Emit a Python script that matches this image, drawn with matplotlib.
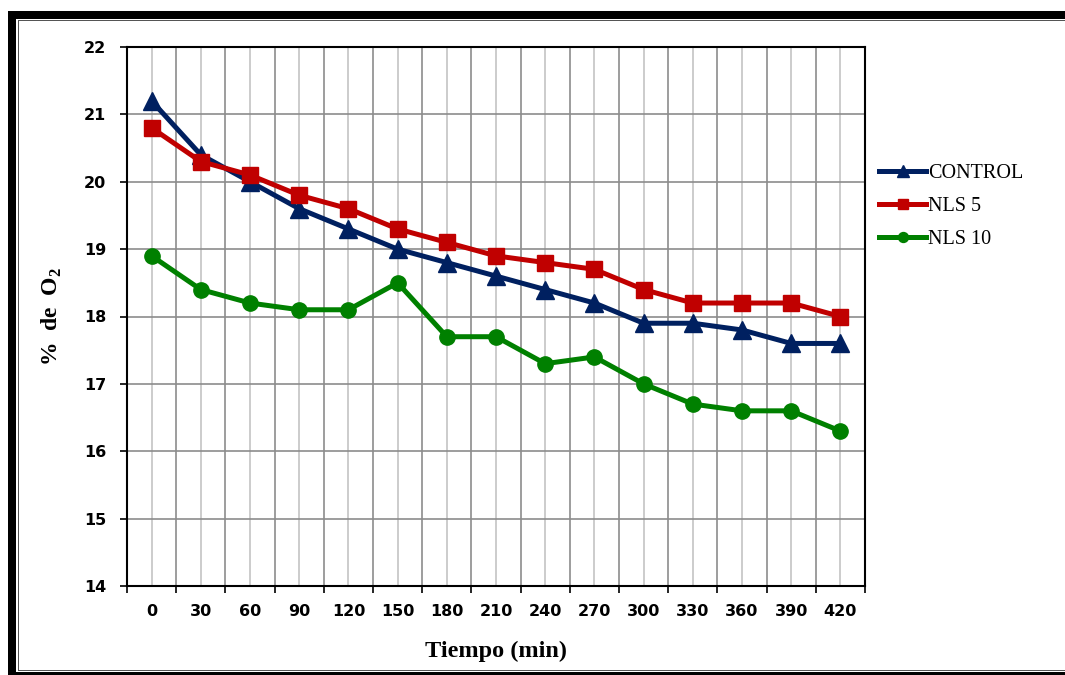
import matplotlib
matplotlib.use('Agg')
import matplotlib.pyplot as plt
import numpy as np
from matplotlib.patches import Rectangle

plt.rcParams['mathtext.fontset'] = 'custom'
plt.rcParams['mathtext.rm'] = 'Liberation Serif:bold'
plt.rcParams['mathtext.bf'] = 'Liberation Serif:bold'

tiempo = ['0', '30', '60', '90', '120', '150', '180', '210', '240', '270',
          '300', '330', '360', '390', '420']
control = [21.2, 20.4, 20.0, 19.6, 19.3, 19.0, 18.8, 18.6, 18.4, 18.2,
           17.9, 17.9, 17.8, 17.6, 17.6]
nls5 = [20.8, 20.3, 20.1, 19.8, 19.6, 19.3, 19.1, 18.9, 18.8, 18.7,
        18.4, 18.2, 18.2, 18.2, 18.0]
nls10 = [18.9, 18.4, 18.2, 18.1, 18.1, 18.5, 17.7, 17.7, 17.3, 17.4,
         17.0, 16.7, 16.6, 16.6, 16.3]
y_ticks = [14, 15, 16, 17, 18, 19, 20, 21, 22]

W, H = 1065, 675
fig = plt.figure(figsize=(W / 100, H / 100), dpi=100)

# marco de la figura (borde grueso arriba/izquierda, lineas finas)
def px(x0, y0, w, h, color):
    fig.add_artist(Rectangle((x0 / W, 1 - (y0 + h) / H), w / W, h / H,
                             transform=fig.transFigure, color=color, lw=0))

px(8, 11, 8, 664, 'black')
px(8, 11, 1057, 8, 'black')
px(18, 20, 1.2, 651, '#555555')
px(18, 20, 1047, 1.2, '#555555')
px(18, 670, 1047, 1.2, '#555555')
px(16, 672, 1049, 2.5, 'black')

ax = fig.add_axes([127 / W, 1 - 586 / H, 738 / W, 539 / H])
x = np.arange(len(tiempo))

ax.set_xlim(-0.5, len(tiempo) - 0.5)
ax.set_ylim(14, 22)
ax.set_yticks(y_ticks)
ax.set_xticks(np.arange(-0.5, len(tiempo)), minor=False)
ax.set_xticklabels([])
ax.set_xticks(x, minor=True)
ax.set_xticklabels(tiempo, minor=True)

ax.grid(True, which='major', axis='both', color='#8c8c8c', lw=1.2)
ax.grid(True, which='minor', axis='x', color='#c4c4c4', lw=1.2)
ax.set_axisbelow(True)

ax.tick_params(axis='x', which='major', direction='out', length=5, width=1.2)
ax.tick_params(axis='x', which='minor', length=0, pad=13)
ax.tick_params(axis='y', direction='out', length=5, width=1.2, pad=10)
for lab in ax.get_xticklabels(minor=True) + ax.get_yticklabels():
    lab.set_fontweight('bold')
    lab.set_fontsize(11.5)
    lab.set_family('DejaVu Sans')

for s in ax.spines.values():
    s.set_linewidth(1.5)

ax.plot(x, control, color='#002060', lw=3.6, marker='^', ms=13, label='CONTROL')
ax.plot(x, nls5, color='#C00000', lw=3.6, marker='s', ms=11, label='NLS 5')
ax.plot(x, nls10, color='#008000', lw=3.6, marker='o', ms=11, label='NLS 10')

ax.set_xlabel('Tiempo (min)', family='Liberation Serif', fontweight='bold',
              fontsize=17.5, labelpad=16)
ax.set_ylabel('%  de  O$_2$', family='Liberation Serif', fontweight='bold',
              fontsize=17, labelpad=14)

leg = ax.legend(loc='upper left', bbox_to_anchor=(0.995, 0.817), frameon=False,
                prop={'family': 'Liberation Serif', 'size': 14.5},
                handlelength=2.3, handletextpad=0.1, labelspacing=0.7,
                markerscale=0.65)

fig.savefig('out.png', dpi=100)
